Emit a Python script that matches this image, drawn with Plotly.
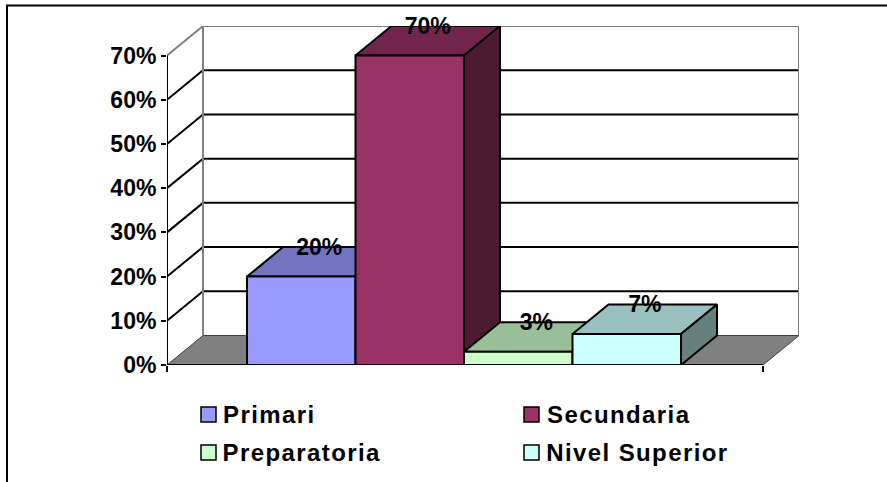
import plotly.graph_objects as go

W, H = 887, 482

categories = ["Primari", "Secundaria", "Preparatoria", "Nivel Superior"]
values = [20, 70, 3, 7]
labels = ["20%", "70%", "3%", "7%"]
tick_values = [0, 10, 20, 30, 40, 50, 60, 70]
tick_labels = ["0%", "10%", "20%", "30%", "40%", "50%", "60%", "70%"]
front_colors = ["#9999FF", "#993366", "#CCFFCC", "#CCFFFF"]
top_colors = ["#7373BF", "#73264D", "#99BF99", "#99BFBF"]
side_colors = ["#4D4D80", "#4D1A33", "#668066", "#668080"]

FONT = "Liberation Sans"
# geometry, pixels
X0, X1, XB = 167, 763, 799
Y0, YT, YB = 365, 55.5, 26
PX_PER_BAR = 108.5
PX_PER_PCT = (Y0 - YT) / 70
DX = (XB - X1) / PX_PER_BAR          # depth in bar widths
DY = (Y0 - 335.5) / PX_PER_PCT       # depth in percent
AXIS_END = (X1 - X0) / PX_PER_BAR
BAR_START = 80 / PX_PER_BAR
YMAX = (Y0 - YB) / PX_PER_PCT
LABEL_NUDGE = 2 / PX_PER_PCT
LINE = dict(color="black", width=2)
GREY = dict(color="#808080", width=2)

fig = go.Figure()

def poly(xs, ys, fill=None, line=LINE):
    fig.add_trace(go.Scatter(
        x=xs, y=ys, mode="lines", line=line, showlegend=False, hoverinfo="skip",
        fill="toself" if fill else None, fillcolor=fill, cliponaxis=False))

# floor
poly([0, DX, AXIS_END + DX, AXIS_END, 0], [0, DY, DY, 0, 0], "#808080", dict(color="#404040", width=1))
# grid lines on both walls
for v in tick_values[1:]:
    is_top = v == tick_values[-1]
    poly([0, DX, AXIS_END + DX], [v, v + DY, v + DY], None, GREY if is_top else LINE)
poly([DX, DX], [DY, 70 + DY], None, GREY)
poly([AXIS_END + DX, AXIS_END + DX], [DY, 70 + DY], None, GREY)

# bars
for i, (name, v) in enumerate(zip(categories, values)):
    a = BAR_START + i
    b = a + 1
    poly([a, a + DX, b + DX, b, a], [v, v + DY, v + DY, v, v], top_colors[i])
    poly([b, b + DX, b + DX, b, b], [0, DY, v + DY, v, 0], side_colors[i])
    poly([a, b, b, a, a], [0, 0, v, v, 0], front_colors[i])

# axis lines
poly([0, 0], [0, 70])
poly([0, AXIS_END], [0, 0])

# data labels
fig.add_trace(go.Scatter(
    x=[BAR_START + i + 0.5 + DX / 2 for i in range(4)],
    y=[v + DY - LABEL_NUDGE for v in values],
    mode="text", text=labels, textposition="middle center", showlegend=False,
    hoverinfo="skip", cliponaxis=False,
    textfont=dict(family=FONT, size=23, color="black", weight="bold")))

# legend placed by hand (two columns)
shapes = [dict(type="rect", xref="paper", yref="paper", x0=7 / W, x1=1.01, y0=-0.01, y1=1 - 5.5 / H,
               line=dict(color="black", width=2), fillcolor="rgba(0,0,0,0)")]
annotations = []
legend_pos = [(201, 414.5, 269), (524, 414.5, 618.5), (201, 452.5, 301.5), (524, 452.5, 637)]
for (lx, ly, tx), name, c in zip(legend_pos, categories, front_colors):
    shapes.append(dict(type="rect", xref="paper", yref="paper",
                       x0=lx / W, x1=(lx + 15) / W, y0=1 - (ly - 7.5) / H, y1=1 - (ly + 7.5) / H,
                       line=dict(color="black", width=1.5), fillcolor=c))
    annotations.append(dict(text=name, xref="paper", yref="paper", x=tx / W, y=1 - ly / H,
                            xanchor="center", yanchor="middle", showarrow=False,
                            font=dict(family=FONT, size=24, color="black", weight="bold")))

fig.update_layout(
    width=W, height=H, autosize=False, margin=dict(l=0, r=0, t=0, b=0),
    paper_bgcolor="white", plot_bgcolor="white", showlegend=False,
    shapes=shapes, annotations=annotations,
    xaxis=dict(domain=[X0 / W, XB / W], range=[0, AXIS_END + DX], showgrid=False, zeroline=False,
               tickmode="array", tickvals=[0, AXIS_END], ticktext=["", ""], ticks="outside",
               ticklen=6, tickwidth=2, tickcolor="black", showline=False, automargin=False),
    yaxis=dict(domain=[1 - Y0 / H, 1 - YB / H], range=[0, YMAX], showgrid=False, zeroline=False,
               tickmode="array", tickvals=tick_values, ticktext=tick_labels, ticks="outside",
               ticklen=5, tickwidth=2, tickcolor="black", showline=False, automargin=False,
               tickfont=dict(family=FONT, size=23, color="black", weight="bold")),
)

post = """
document.body.style.margin = '0';
document.querySelectorAll('.annotation-text').forEach(function (t) { t.style.letterSpacing = '1.4px'; });
"""
fig.write_html("out.html", config={"displayModeBar": False}, post_script=post)
